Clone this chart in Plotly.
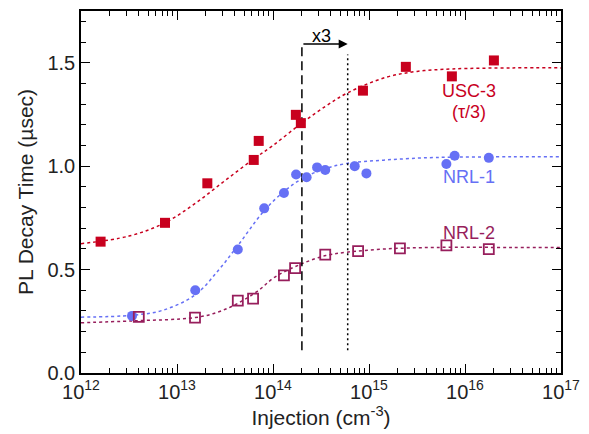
import plotly.graph_objects as go
import math

# ---- data ----
usc_x = [1.6e12, 7.5e12, 2.07e13, 6.3e13, 7.1e13, 1.73e14, 1.95e14, 8.65e14, 2.42e15, 7.3e15, 2.0e16]
usc_y = [0.635, 0.726, 0.917, 1.03, 1.122, 1.248, 1.208, 1.365, 1.48, 1.434, 1.511]

nrl1_x = [3.4e12, 1.55e13, 4.3e13, 8.1e13, 1.3e14, 1.74e14, 2.24e14, 2.88e14, 3.5e14, 7.1e14, 9.4e14, 6.4e15, 7.8e15, 1.77e16]
nrl1_y = [0.276, 0.40, 0.597, 0.796, 0.870, 0.96, 0.946, 0.994, 0.981, 1.0, 0.965, 1.01, 1.05, 1.04]

nrl2_x = [4.0e12, 1.54e13, 4.3e13, 6.2e13, 1.3e14, 1.7e14, 3.5e14, 7.7e14, 2.1e15, 6.4e15, 1.77e16]
nrl2_y = [0.271, 0.268, 0.35, 0.36, 0.472, 0.507, 0.572, 0.589, 0.602, 0.617, 0.599]

# fitted curves (log10 of injection, value)
usc_fit_logx = [12.0, 12.5, 12.87, 13.19, 13.5, 13.8, 14.0, 14.29, 14.55, 14.78, 15.18, 15.5, 15.87, 16.5, 17.0]
usc_fit_y = [0.625, 0.662, 0.725, 0.82, 0.93, 1.035, 1.10, 1.205, 1.29, 1.355, 1.43, 1.458, 1.47, 1.475, 1.475]

nrl1_fit_logx = [12.0, 12.53, 12.85, 13.19, 13.43, 13.64, 13.9, 14.12, 14.3, 14.53, 14.77, 15.18, 15.7, 16.5, 17.0]
nrl1_fit_y = [0.27, 0.279, 0.303, 0.378, 0.496, 0.62, 0.78, 0.88, 0.938, 0.986, 1.013, 1.03, 1.042, 1.045, 1.045]

nrl2_fit_logx = [12.0, 12.54, 13.19, 13.43, 13.63, 13.84, 14.02, 14.3, 14.55, 14.77, 15.18, 15.7, 16.5, 17.0]
nrl2_fit_y = [0.243, 0.252, 0.268, 0.295, 0.336, 0.396, 0.464, 0.528, 0.568, 0.584, 0.60, 0.607, 0.607, 0.607]

x_tickvals = [1e12, 1e13, 1e14, 1e15, 1e16, 1e17]
x_ticktext = ["10<sup>12</sup>", "10<sup>13</sup>", "10<sup>14</sup>", "10<sup>15</sup>", "10<sup>16</sup>", "10<sup>17</sup>"]

dashed_at = 2e14
dotted_at = 6e14
dashed_y = [0.11, 1.59]
dotted_y = [0.11, 1.54]

RED = "#C8001E"
BLUE = "#6670F5"
PURP = "#971E5C"
FONT = "Liberation Sans, Arial, Helvetica, sans-serif"

fig = go.Figure()

def curve(lx, y, color):
    fig.add_trace(go.Scatter(x=[10 ** v for v in lx], y=y, mode="lines",
                             line=dict(color=color, width=1.5, dash="dot", shape="spline", smoothing=1.0),
                             hoverinfo="skip", showlegend=False))

curve(usc_fit_logx, usc_fit_y, RED)
curve(nrl1_fit_logx, nrl1_fit_y, BLUE)
curve(nrl2_fit_logx, nrl2_fit_y, PURP)

# vertical reference lines
fig.add_trace(go.Scatter(x=[dashed_at, dashed_at], y=dashed_y, mode="lines",
                         line=dict(color="black", width=1.5, dash="9px,5px"), hoverinfo="skip", showlegend=False))
fig.add_trace(go.Scatter(x=[dotted_at, dotted_at], y=dotted_y, mode="lines",
                         line=dict(color="black", width=1.5, dash="2px,3px"), hoverinfo="skip", showlegend=False))

fig.add_trace(go.Scatter(x=usc_x, y=usc_y, mode="markers",
                         marker=dict(symbol="square", size=10, color=RED, line=dict(width=0)),
                         showlegend=False))
fig.add_trace(go.Scatter(x=nrl1_x, y=nrl1_y, mode="markers",
                         marker=dict(symbol="circle", size=10, color=BLUE, line=dict(width=0)),
                         showlegend=False))
fig.add_trace(go.Scatter(x=nrl2_x, y=nrl2_y, mode="markers",
                         marker=dict(symbol="square-open", size=10, color=PURP, line=dict(width=1.8)),
                         showlegend=False))

# arrow x3
fig.add_annotation(x=math.log10(dotted_at), y=dashed_y[1], ax=math.log10(dashed_at), ay=dashed_y[1],
                   xref="x", yref="y", axref="x", ayref="y", text="", showarrow=True,
                   arrowhead=2, arrowsize=1.2, arrowwidth=1.5, arrowcolor="black")
fig.add_annotation(x=14.51, y=1.63, xref="x", yref="y", text="x3", showarrow=False,
                   font=dict(family=FONT, size=18, color="black"))

# series labels
fig.add_annotation(x=16.04, y=1.363, text="USC-3", showarrow=False, font=dict(family=FONT, size=18, color=RED))
fig.add_annotation(x=16.04, y=1.262, text="(τ/3)", showarrow=False, font=dict(family=FONT, size=18, color=RED))
fig.add_annotation(x=16.04, y=0.949, text="NRL-1", showarrow=False, font=dict(family=FONT, size=18, color=BLUE))
fig.add_annotation(x=16.04, y=0.676, text="NRL-2", showarrow=False, font=dict(family=FONT, size=18, color=PURP))

axis_common = dict(showline=True, linecolor="black", linewidth=1.5, mirror="ticks",
                   ticks="inside", tickcolor="black", tickwidth=1.2, ticklen=9,
                   showgrid=False, zeroline=False,
                   tickfont=dict(family=FONT, size=20, color="#222"))

fig.update_xaxes(type="log", range=[12, 17], tickmode="array", tickvals=x_tickvals, ticktext=x_ticktext,
                 minor=dict(ticks="inside", ticklen=5, tickcolor="black", tickwidth=1.2, dtick="D1", showgrid=False),
                 title=dict(text="Injection (cm<sup>-3</sup>)", font=dict(family=FONT, size=21, color="#222"), standoff=4),
                 **axis_common)
fig.update_yaxes(range=[0, 1.75], dtick=0.5, tick0=0, tickformat=".1f",
                 minor=dict(ticks="inside", ticklen=5, tickcolor="black", tickwidth=1.2, dtick=0.1, showgrid=False),
                 title=dict(text="PL Decay Time (µsec)", font=dict(family=FONT, size=21, color="#222"), standoff=8),
                 **axis_common)

fig.update_layout(width=589, height=434, margin=dict(l=81, r=24, t=9, b=61),
                  paper_bgcolor="white", plot_bgcolor="white")

fig.write_html("out.html")
